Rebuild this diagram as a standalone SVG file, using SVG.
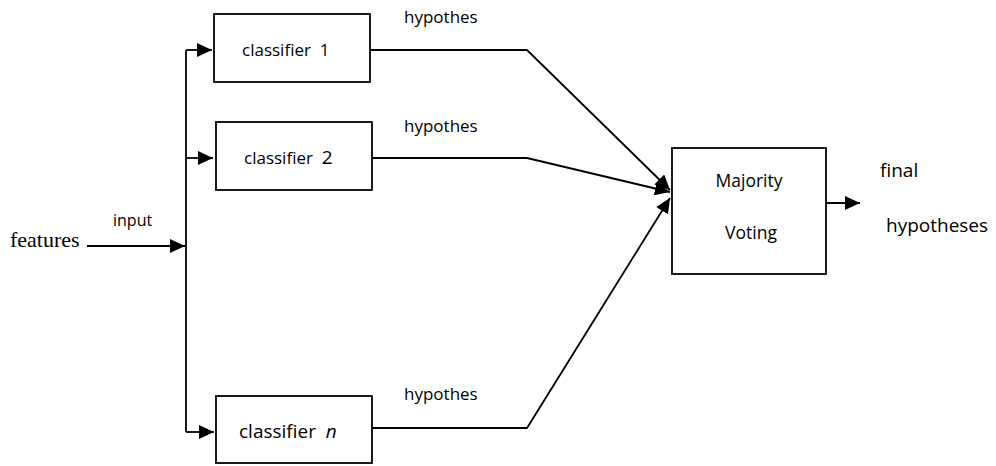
<svg xmlns="http://www.w3.org/2000/svg" width="996" height="466" viewBox="0 0 996 466">
  <style>
    .box { fill: #ffffff; stroke: #000000; stroke-width: 1.8; }
    .conn { fill: none; stroke: #000000; stroke-width: 1.8; }
    .lbl { font-family: "Open Sans", "Noto Sans", "Liberation Sans", sans-serif; fill: #000000; }
    .serif { font-family: "Liberation Serif", "Times New Roman", serif; fill: #000000; }
  </style>
  <defs>
    <marker id="arrow" markerUnits="userSpaceOnUse" markerWidth="15" markerHeight="14" refX="15" refY="7" orient="auto">
      <path d="M0,0 L15,7 L0,14 z" fill="#000000"/>
    </marker>
  </defs>
  <rect width="996" height="466" fill="#ffffff"/>

  <g id="connectors">
    <path class="conn" d="M87,246 H185" marker-end="url(#arrow)"/>
    <path class="conn" d="M186,50 V432"/>
    <path class="conn" d="M186,50 H212" marker-end="url(#arrow)"/>
    <path class="conn" d="M186,158 H213" marker-end="url(#arrow)"/>
    <path class="conn" d="M186,432 H214" marker-end="url(#arrow)"/>
    <path class="conn" d="M370,50 H527 L670,190" marker-end="url(#arrow)"/>
    <path class="conn" d="M372,158 H527 L670,192" marker-end="url(#arrow)"/>
    <path class="conn" d="M372,428 H527 L670,198" marker-end="url(#arrow)"/>
    <path class="conn" d="M826,203 H860" marker-end="url(#arrow)"/>
  </g>

  <g id="features">
    <text class="serif" x="10" y="247" font-size="22">features</text>
    <text class="lbl" x="113" y="226" font-size="16">input</text>
  </g>

  <g id="classifier1">
    <rect class="box" x="214" y="14" width="156" height="68"/>
    <text class="lbl" x="242" y="56" font-size="17" xml:space="preserve">classifier  1</text>
  </g>

  <g id="classifier2">
    <rect class="box" x="216" y="122" width="156" height="68"/>
    <text class="lbl" x="244" y="164" font-size="17" xml:space="preserve">classifier  <tspan font-size="19">2</tspan></text>
  </g>

  <g id="classifierN">
    <rect class="box" x="216" y="396" width="156" height="67"/>
    <text class="lbl" x="239" y="438" font-size="19" xml:space="preserve">classifier  <tspan font-style="italic">n</tspan></text>
  </g>

  <g id="hypothesLabels">
    <text class="lbl" x="404" y="23" font-size="17">hypothes</text>
    <text class="lbl" x="404" y="132" font-size="17">hypothes</text>
    <text class="lbl" x="404" y="400" font-size="17">hypothes</text>
  </g>

  <g id="majority">
    <rect class="box" x="672" y="148" width="154" height="126"/>
    <text class="lbl" x="749" y="187" font-size="17.5" text-anchor="middle">Majority</text>
    <text class="lbl" x="751" y="239" font-size="17.5" text-anchor="middle">Voting</text>
  </g>

  <g id="output">
    <text class="lbl" x="880" y="177" font-size="19">final</text>
    <text class="lbl" x="886" y="232" font-size="19">hypotheses</text>
  </g>
</svg>
